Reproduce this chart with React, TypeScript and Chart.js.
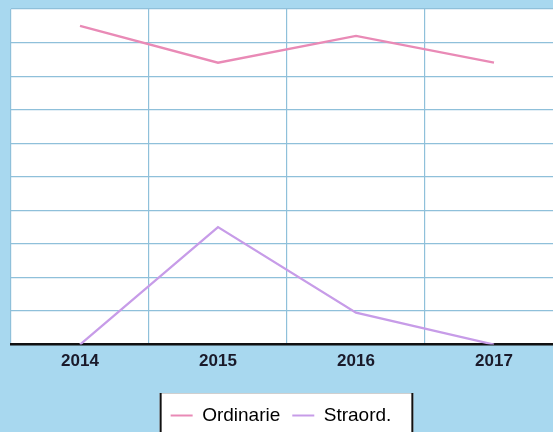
import React, { useEffect, useRef } from "react";
import { Chart, registerables } from "chart.js";

Chart.register(...registerables);

const categories = ["2014", "2015", "2016", "2017"];
const ordinarie = [9.5, 8.4, 9.2, 8.4];
const straord = [0, 3.5, 0.95, 0];
const seriesNames = ["Ordinarie", "Straord."];
const yMin = 0;
const yMax = 10;
const yStep = 1;

const BG = "#a8d8ef";
const GRID = "#8fc0da";
const PINK = "#e98ab6";
const PURPLE = "#c79ce8";

const plotBg = {
  id: "plotBg",
  afterLayout(chart: any) {
    const lg = chart.legend;
    if (lg) {
      lg.left -= 6;
      lg.right -= 6;
    }
  },
  beforeDraw(chart: any) {
    const { ctx, chartArea } = chart;
    ctx.save();
    ctx.fillStyle = "#ffffff";
    ctx.fillRect(chartArea.left, chartArea.top, chartArea.right - chartArea.left, chartArea.bottom - chartArea.top);
    const lg = chart.legend;
    if (lg && lg.legendHitBoxes && lg.legendHitBoxes.length) {
      const hb = lg.legendHitBoxes;
      const l = hb[0].left - 11;
      const last = hb[hb.length - 1];
      const r = last.left + last.width + 22;
      const t = hb[0].top - 13;
      const b = chart.height + 10;
      ctx.fillStyle = "#ffffff";
      ctx.fillRect(l, t, r - l, b - t);
      ctx.strokeStyle = "#cfcfcf";
      ctx.lineWidth = 1;
      ctx.beginPath();
      ctx.moveTo(l, t + 0.5);
      ctx.lineTo(r, t + 0.5);
      ctx.stroke();
      ctx.strokeStyle = "#111111";
      ctx.lineWidth = 2;
      ctx.beginPath();
      ctx.moveTo(l + 1, t);
      ctx.lineTo(l + 1, b);
      ctx.moveTo(r - 1, t);
      ctx.lineTo(r - 1, b);
      ctx.stroke();
    }
    ctx.restore();
  },
};

export default function App() {
  const ref = useRef<HTMLCanvasElement | null>(null);
  useEffect(() => {
    if (!ref.current) return;
    const chart = new Chart(ref.current, {
      type: "line",
      data: {
        labels: categories,
        datasets: [
          { label: seriesNames[0], data: ordinarie, borderColor: PINK, backgroundColor: PINK, borderWidth: 2.3, pointRadius: 0, tension: 0 },
          { label: seriesNames[1], data: straord, borderColor: PURPLE, backgroundColor: PURPLE, borderWidth: 2.3, pointRadius: 0, tension: 0 },
        ],
      },
      options: {
        animation: false,
        responsive: false,
        layout: { padding: { left: 11, top: 9, right: 7, bottom: 0 } },
        plugins: {
          tooltip: { enabled: false },
          legend: {
            position: "bottom",
            labels: {
              boxWidth: 22,
              boxHeight: 2,
              padding: 12,
              color: "#111111",
              font: { family: "'Liberation Sans', Arial, sans-serif", size: 19 },
              generateLabels: (c: any) =>
                c.data.datasets.map((d: any, i: number) => ({
                  text: d.label,
                  fillStyle: d.borderColor,
                  strokeStyle: d.borderColor,
                  lineWidth: 0,
                  hidden: false,
                  datasetIndex: i,
                })),
            },
          },
        },
        scales: {
          x: {
            offset: true,
            grid: { offset: true, color: GRID, lineWidth: 1.2, drawTicks: false },
            border: { display: true, color: "#111111", width: 2.5 },
            ticks: {
              padding: 7,
              color: "#1a1a2a",
              font: { family: "'Liberation Sans', Arial, sans-serif", size: 17, weight: "bold" },
            },
            afterFit: (scale: any) => {
              scale.height += 15;
            },
          },
          y: {
            min: yMin,
            max: yMax,
            ticks: { display: false, stepSize: yStep },
            grid: { color: GRID, lineWidth: 1.2, drawTicks: false },
            border: { display: false },
          },
        },
      },
      plugins: [plotBg],
    });
    return () => chart.destroy();
  }, []);
  return (
    <div style={{ position: "fixed", left: 0, top: 0, width: 553, height: 432, overflow: "hidden", background: BG }}>
      <canvas ref={ref} width={570} height={435} style={{ display: "block", width: 570, height: 435 }} />
    </div>
  );
}
